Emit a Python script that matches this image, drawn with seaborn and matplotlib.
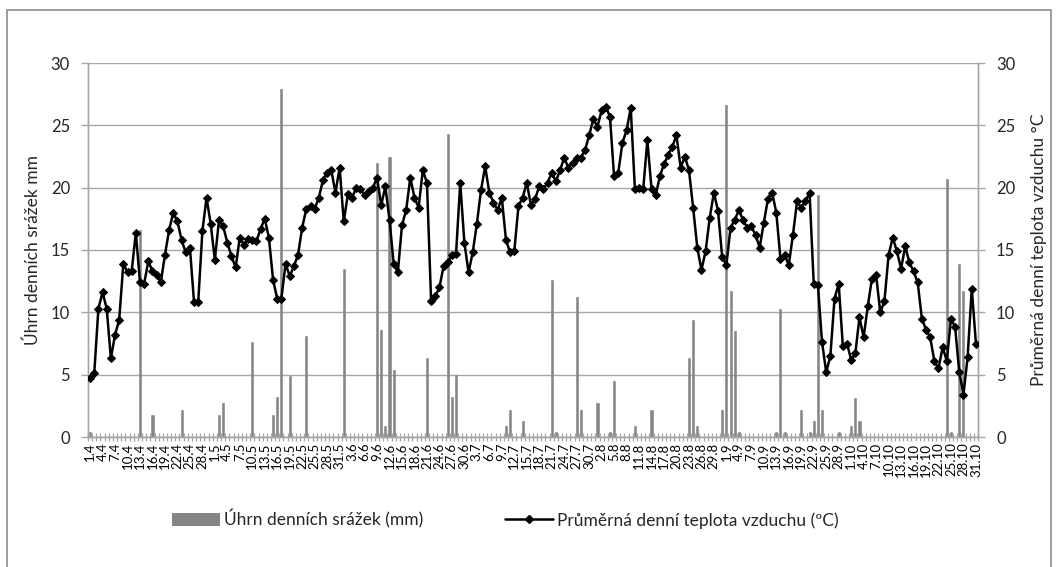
import numpy as np
import pandas as pd
import matplotlib
matplotlib.use("Agg")
import matplotlib.pyplot as plt
from matplotlib.lines import Line2D
from matplotlib.patches import Patch
import seaborn as sns

# ---- data ----
dates = pd.date_range("2021-04-01", "2021-10-31")
day_labels = [f"{d.day}.{d.month}" for d in dates]

temperature = [
    4.7, 5.1, 10.3, 11.6, 10.3, 6.3, 8.2, 9.4, 13.9, 13.2, 13.3, 16.4, 12.4, 12.3, 14.1,
    13.3, 13.0, 12.4, 14.6, 16.6, 18.0, 17.3, 15.8, 14.8, 15.2, 10.8, 10.8, 16.5, 19.2, 17.1,
    14.2, 17.4, 16.9, 15.6, 14.5, 13.6, 16.0, 15.4, 15.9, 15.8, 15.7, 16.7, 17.5, 16.0, 12.6,
    11.1, 11.1, 13.9, 12.9, 13.7, 14.6, 16.8, 18.3, 18.5, 18.3, 19.2, 20.6, 21.2, 21.4, 19.6,
    21.6, 17.3, 19.5, 19.2, 20.0, 19.9, 19.4, 19.7, 20.0, 20.8, 18.6, 20.1, 17.4, 13.9, 13.2,
    17.0, 18.2, 20.8, 19.2, 18.4, 21.4, 20.4, 10.9, 11.3, 12.0, 13.7, 14.0, 14.6, 14.7, 20.4,
    15.6, 13.2, 14.8, 17.1, 19.8, 21.7, 19.6, 18.8, 18.2, 19.2, 15.8, 14.8, 14.9, 18.5, 19.2,
    20.4, 18.6, 19.1, 20.1, 19.9, 20.4, 21.2, 20.5, 21.4, 22.4, 21.6, 22.0, 22.4, 22.4, 23.0,
    24.2, 25.5, 24.9, 26.2, 26.5, 25.7, 20.9, 21.2, 23.6, 24.6, 26.4, 19.9, 20.0, 19.9, 23.8,
    19.9, 19.4, 20.9, 21.9, 22.6, 23.3, 24.2, 21.6, 22.5, 21.4, 18.4, 15.2, 13.4, 14.9, 17.6,
    19.6, 18.1, 14.4, 13.8, 16.8, 17.4, 18.2, 17.4, 16.8, 16.9, 16.2, 15.2, 17.2, 19.1, 19.6,
    18.0, 14.3, 14.6, 13.8, 16.2, 18.9, 18.4, 18.9, 19.6, 12.3, 12.2, 7.6, 5.2, 6.5, 11.1,
    12.3, 7.3, 7.5, 6.2, 6.7, 9.6, 8.0, 10.5, 12.7, 13.0, 10.0, 10.9, 14.6, 16.0, 14.9,
    13.5, 15.3, 14.0, 13.3, 12.4, 9.5, 8.6, 8.0, 6.1, 5.5, 7.2, 6.1, 9.5, 8.8, 5.2,
    3.4, 6.4, 11.9, 7.5,
]

precipitation = [
    0.4, 0, 0, 0, 0, 0, 0, 0, 0, 0, 0, 0, 16.6, 0, 0,
    1.8, 0, 0, 0, 0, 0, 0, 2.2, 0, 0, 0, 0, 0, 0, 0,
    0, 1.8, 2.7, 0, 0, 0, 0, 0, 0, 7.6, 0, 0, 0, 0, 1.8,
    3.2, 27.9, 0, 4.9, 0, 0, 0, 8.1, 0, 0, 0, 0, 0, 0, 0,
    0, 13.5, 0, 0, 0, 0, 0, 0, 0, 22.0, 8.6, 0.9, 22.5, 5.4, 0,
    0, 0, 0, 0, 0, 0, 6.3, 0, 0, 0, 0, 24.3, 3.2, 5.0, 0,
    0, 0, 0, 0, 0, 0, 0, 0, 0, 0, 0.9, 2.2, 0, 0, 1.3,
    0, 0, 0, 0, 0, 0, 12.6, 0.4, 0, 0, 0, 0, 11.2, 2.2, 0,
    0, 0, 2.7, 0, 0, 0.4, 4.5, 0, 0, 0, 0, 0.9, 0, 0, 0,
    2.2, 0, 0, 0, 0, 0, 0, 0, 0, 6.3, 9.4, 0.9, 0, 0, 0,
    0, 0, 2.2, 26.6, 11.7, 8.5, 0.4, 0, 0, 0, 0, 0, 0, 0, 0,
    0.4, 10.3, 0.4, 0, 0, 0, 2.2, 0, 0.4, 1.3, 19.4, 2.2, 0, 0, 0,
    0.4, 0, 0, 0.9, 3.1, 1.3, 0, 0, 0, 0, 0, 0, 0, 0, 0,
    0, 0, 0, 0, 0, 0, 0, 0, 0, 0, 0, 20.7, 0.4, 0, 13.9,
    11.7, 0, 0, 0,
]

left_label = "Úhrn denních srážek mm"
right_label = "Průměrná denní teplota vzduchu °C"
bar_name = "Úhrn denních srážek (mm)"
line_name = "Průměrná denní teplota vzduchu (ºC)"
y_ticks = [0, 5, 10, 15, 20, 25, 30]

df = pd.DataFrame({"day": day_labels, "precip": precipitation,
                   "temp": temperature, "pos": np.arange(len(day_labels))})

# ---- style ----
sns.set_theme(style="white")
plt.rcParams["font.family"] = ["Lato", "DejaVu Sans"]

GRID = "#a6a6a6"
BAR = "#858585"

fig = plt.figure(figsize=(10.58, 5.67), dpi=100)
ax = fig.add_axes([88 / 1058, 1 - 437 / 567, 890 / 1058, 374 / 567])

sns.barplot(data=df, x="day", y="precip", order=day_labels, color=BAR,
            width=0.5, saturation=1, ax=ax, zorder=2,
            edgecolor=BAR, linewidth=0.4)

ax2 = ax.twinx()
sns.lineplot(data=df, x="pos", y="temp", ax=ax2, color="black", lw=1.8,
             marker="D", markersize=4.2, markeredgecolor="black",
             markerfacecolor="black", zorder=3)

n = len(day_labels)
for a in (ax, ax2):
    a.set_xlim(-0.5, n - 0.5)
    a.set_ylim(0, 30)
    a.set_yticks(y_ticks)
    for s in a.spines.values():
        s.set_color(GRID)
        s.set_linewidth(1.0)
    a.spines["top"].set_visible(False)

ax.grid(axis="y", color=GRID, lw=1.0, zorder=0)
ax.set_axisbelow(True)

ax.set_xticks(range(0, n, 3))
ax.set_xticklabels(day_labels[::3], rotation=90, fontsize=9.5)
ax.set_xticks(np.arange(-0.5, n, 1), minor=True)
ax.tick_params(axis="x", which="major", length=0, pad=4, labelcolor="black")
ax.tick_params(axis="x", which="minor", direction="inout", length=6,
               width=0.9, color=GRID, bottom=True)
ax.tick_params(axis="y", length=5, width=1.0, color=GRID, labelsize=12, pad=8)
ax2.tick_params(axis="y", length=5, width=1.0, color=GRID, labelsize=12, pad=8)
ax.set_xlabel("")
ax2.set_xlabel("")
ax.set_ylabel(left_label, fontsize=12.5, labelpad=7)
ax2.set_ylabel(right_label, fontsize=12.5, labelpad=11, rotation=90)

# legend
handles = [Patch(facecolor=BAR, edgecolor="none"),
           Line2D([0], [0], color="black", lw=1.8, marker="D", markersize=4.2)]
fig.legend(handles, [bar_name, line_name], loc="center",
           bbox_to_anchor=(0.5 - 24 / 1058, 1 - 519 / 567), ncol=2, frameon=False,
           fontsize=12.5, columnspacing=4.7, handlelength=2.8,
           handletextpad=0.2)

# chart border
border = plt.Rectangle((7 / 1058, -0.05), 1044 / 1058, 1.05 - 10 / 567,
                       transform=fig.transFigure, fill=False,
                       edgecolor="#8c8c8c", lw=1.2)
fig.add_artist(border)

fig.savefig("out.png", dpi=100)
